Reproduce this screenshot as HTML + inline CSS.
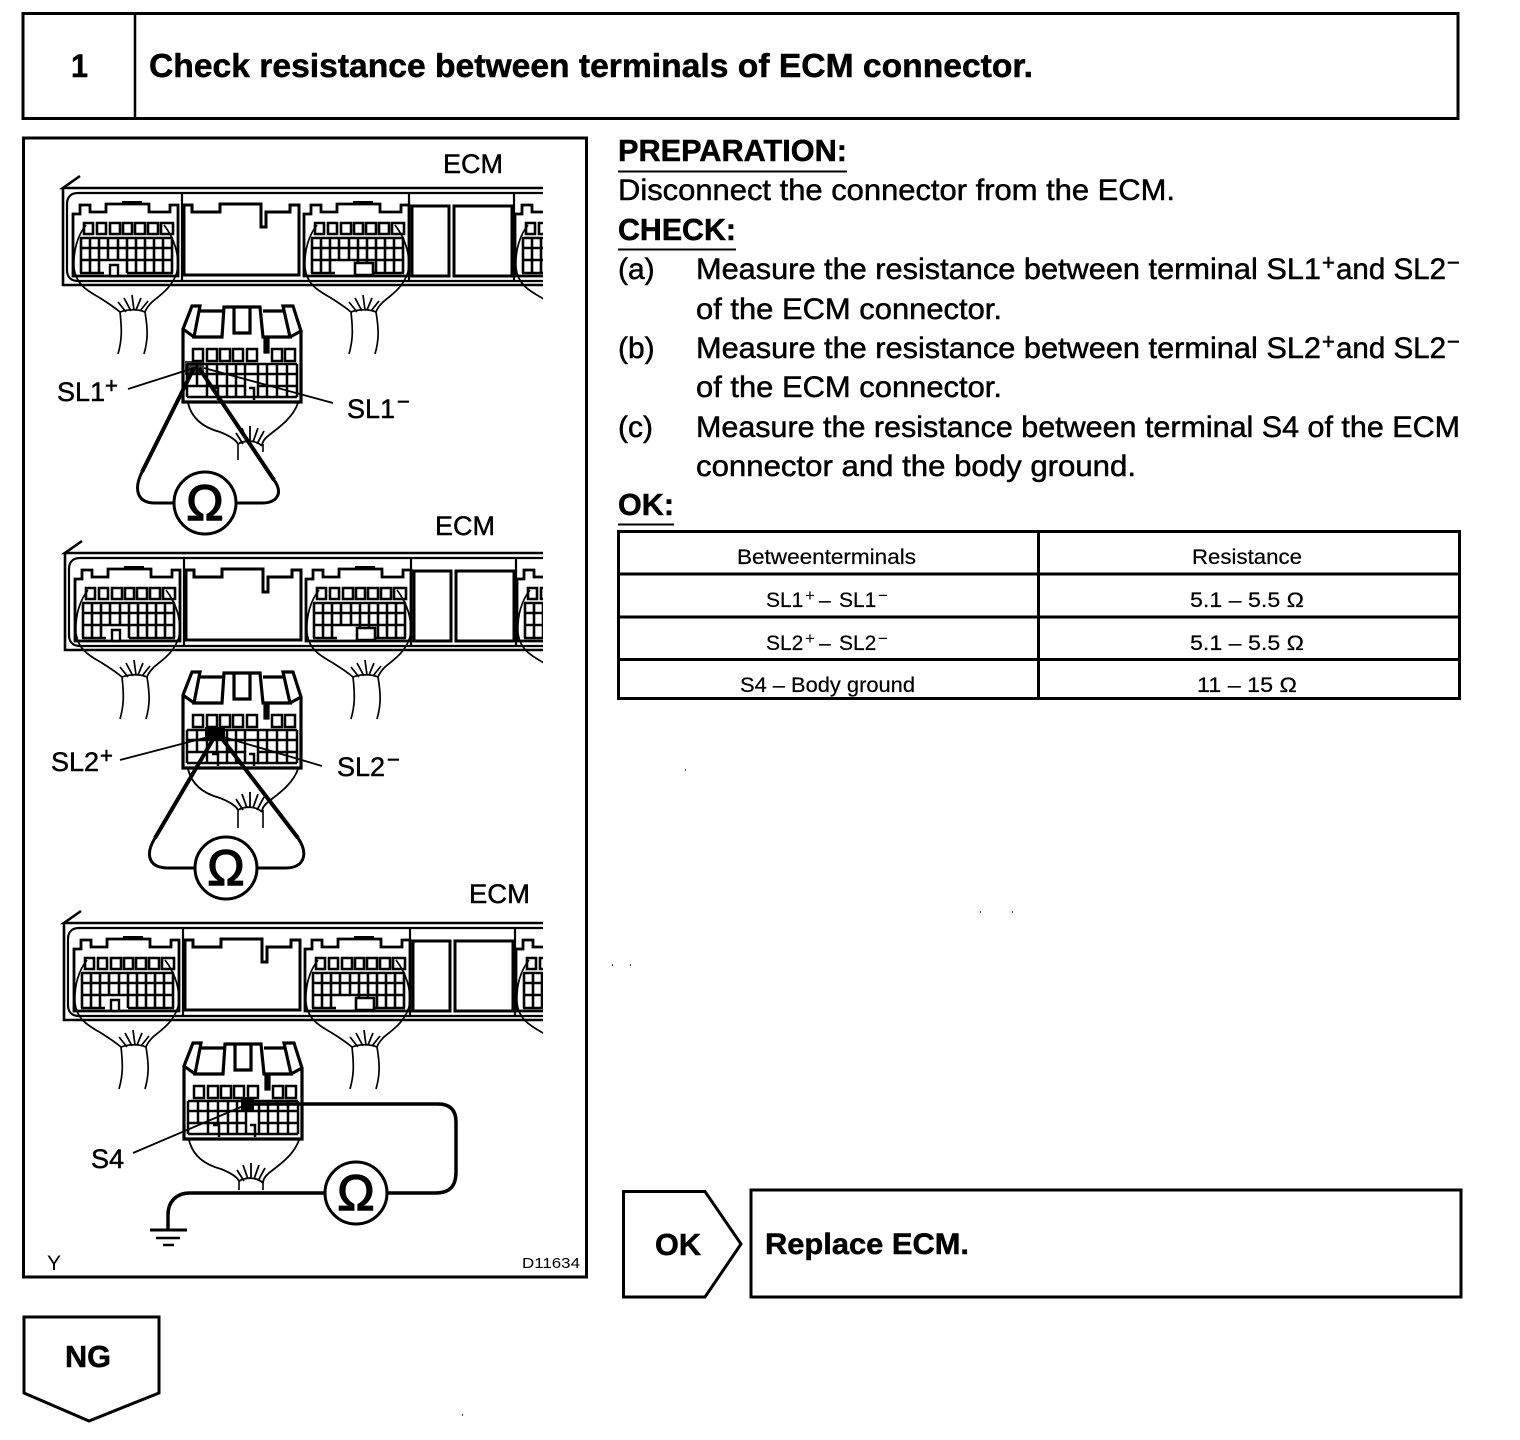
<!DOCTYPE html>
<html><head><meta charset="utf-8"><style>
html,body{margin:0;padding:0;background:#fff}
svg{display:block}
text{font-family:"Liberation Sans",sans-serif;fill:#000}
.b{font-weight:bold;stroke:#000;stroke-width:.5px}
.t{font-size:30px;stroke:#000;stroke-width:.5px}
.s{font-size:22px;stroke:#000;stroke-width:.6px}
.l{font-size:27px;stroke:#000;stroke-width:.45px}
.m{font-size:21px;stroke:#000;stroke-width:.2px}
.o{font-size:50px;stroke:#000;stroke-width:1.4px}
</style></head><body>
<svg width="1520" height="1440" viewBox="0 0 1520 1440" xmlns="http://www.w3.org/2000/svg">
<defs>
<clipPath id="c"><rect x="0" y="150" width="543" height="1100"/></clipPath>
<path id="grid" fill="none" stroke="#000" stroke-width="2.6" d="M84 223h9v11h-9zM97 223h9v11h-9zM110 223h10v11h-10zM123 223h9v11h-9zM135 223h10v11h-10zM148 223h10v11h-10zM161 223h12v11h-12zM80 238H173M80 248H173M80 260H173M80 273H104M127 273H173M81 238V273M90 238V273M99 238V273M108 238V260M118 238V260M127 238V273M136 238V273M145 238V273M154 238V273M163 238V273M172 238V273"/>
<g id="hous" fill="none" stroke="#000" stroke-width="2.8">
<path d="M73 276V214H80V205H90V212H106V204H149V212H170V205H178V276H73Z"/>
<path d="M122 203H142" stroke-width="4"/>
</g>
<g id="wire" fill="none" stroke="#000" stroke-width="1.7">
<path d="M86 225C78 235 73 250 74 268C76 285 88 291 100 298C108 303 114 307 120 312C122 330 122 340 118 354"/>
<path d="M164 225C174 238 180 255 177 272C172 288 160 295 152 302C148 306 146 309 145 312C148 330 148 340 144 354"/>
<path d="M120 312C128 309 138 309 145 312M118 302L126 312M124 298L131 311M132 295L134 310M141 298L136 310M148 301L140 311"/>
</g>
<g id="bar">
<path fill="none" stroke="#000" stroke-width="2.6" d="M80 176L63 188H543M63 188V285H543"/>
<path fill="none" stroke="#000" stroke-width="2.2" d="M182 193H78C71 193 67 197 67 204V270C67 277 71 281 78 281H543M182 193H543M182 193V281M409 193V281M514 193V281"/>
<use href="#hous"/><use href="#grid"/><use href="#wire"/>
<path d="M110 265h8v11h-8z" fill="#fff" stroke="#000" stroke-width="2.4"/>
<path fill="none" stroke="#000" stroke-width="3" d="M184 275V205H192V212H220V204H261V227H266V212H290V205H299V275H184ZM412 206H449V276H412ZM454 206H512V276H454Z"/>
<g transform="translate(231,0)"><use href="#hous"/><use href="#grid"/><use href="#wire"/>
<path d="M124 263h18v12h-18z" fill="#fff" stroke="#000" stroke-width="2.6"/></g>
<g transform="translate(442,0)"><use href="#hous"/><use href="#grid"/><use href="#wire"/></g>
</g>
<g id="male" fill="none" stroke="#000">
<path stroke-width="3.2" d="M183 329L192 306H200L194 337H222L224 307H260L263 337H290L283 306H293L301 331V402H183ZM183 329L194 337M290 337L301 331M234 308V333H250V308M200 311H223M263 311H284M265 337V352H268V337"/>
<path stroke-width="2.5" d="M193 349h10v12h-10zM207 349h10v12h-10zM220 349h10v12h-10zM233 349h10v12h-10zM247 349h10v12h-10zM272 349h10v12h-10zM285 349h10v12h-10zM187 364H297M187 374H297M187 386H245M258 386H297M187 397H297M187 364V397M197 364V386M207 364V397M217 364V386M227 364V397M236 364V397M245 364V397M258 364V397M267 364V397M277 364V397M287 364V397M297 364V397M212 388H218V400M249 388H254V400"/>
</g>
<path id="mwire" fill="none" stroke="#000" stroke-width="1.8" d="M188 403C192 420 205 428 220 432C230 436 236 440 238 444M298 403C292 420 275 430 268 436C263 440 262 444 262 446M238 444C245 440 256 440 262 446M236 433L243 444M242 428L247 442M250 426L250 442M258 428L253 442M264 431L257 444"/>
<g id="ohm">
<circle cx="0" cy="0" r="31" fill="#fff" stroke="#000" stroke-width="3"/>
</g>
</defs>
<rect width="1520" height="1440" fill="#fff"/>

<rect x="23" y="13.5" width="1435" height="105" fill="none" stroke="#000" stroke-width="3"/>
<path d="M135 13V119" stroke="#000" stroke-width="2.5"/>
<text class="b" x="71" y="77" font-size="32" textLength="17" lengthAdjust="spacingAndGlyphs">1</text>
<text class="b" x="149" y="77" font-size="33" textLength="884" lengthAdjust="spacingAndGlyphs">Check resistance between terminals of ECM connector.</text>

<rect x="23.500" y="138" width="563" height="1139" fill="none" stroke="#000" stroke-width="3"/>

<g clip-path="url(#c)">
<use href="#bar"/>
<use href="#bar" transform="translate(2,365)"/>
<use href="#bar" transform="translate(1,735)"/>
</g>
<use href="#male"/><use href="#mwire"/>
<use href="#male" transform="translate(0,366)"/><use href="#mwire" transform="translate(0,366)"/>
<use href="#male" transform="translate(1,737)"/><use href="#mwire" transform="translate(1,737)"/>

<path d="M238 444V460M263 444V452" stroke="#000" stroke-width="1.6" fill="none"/>
<path d="M238 810V828M263 810V828" stroke="#000" stroke-width="1.6" fill="none"/>
<path d="M239 1181V1190M263 1181V1190" stroke="#000" stroke-width="1.6" fill="none"/>

<g fill="none" stroke="#000">
<path stroke-width="4" d="M194 368L142 472"/>
<path stroke-width="4" d="M199 368L274 480"/>
<path stroke-width="3" d="M142 472C134 488 136 503 155 503H174M274 480C284 494 276 503 262 503H236"/>
<path stroke-width="1.8" d="M128 389L197 367M333 403L204 368"/>
<path stroke-width="4" d="M215 736L155 838"/>
<path stroke-width="4" d="M220 736L298 838"/>
<path stroke-width="3" d="M155 838C144 856 150 868 168 868H195M298 838C310 856 302 868 286 868H258"/>
<path stroke-width="1.8" d="M120 760L212 736M322 766L220 736"/>
<path stroke-width="3.5" d="M248 1104H438C450 1104 456 1110 456 1122V1172C456 1186 450 1193 436 1193H388M324 1193H190C176 1193 168 1202 168 1215V1230"/>
<path stroke-width="1.8" d="M133 1153L248 1104"/>
<path stroke-width="3" d="M150 1230H187"/>
<path stroke-width="2.5" d="M156 1238H180M163 1245H174"/>
</g>
<rect x="185" y="361" width="19" height="14" fill="#000" opacity=".75"/>
<rect x="205" y="727" width="20" height="12" fill="#000"/>
<rect x="241" y="1097" width="13" height="13" fill="#000"/>

<use href="#ohm" x="205" y="503"/>
<use href="#ohm" x="226" y="868"/>
<use href="#ohm" x="356" y="1193"/>
<text class="o" x="205" y="520" text-anchor="middle">Ω</text>
<text class="o" x="226" y="885" text-anchor="middle">Ω</text>
<text class="o" x="356" y="1210" text-anchor="middle">Ω</text>

<text class="l" x="443" y="173" textLength="60" lengthAdjust="spacingAndGlyphs">ECM</text>
<text class="l" x="435" y="535" textLength="60" lengthAdjust="spacingAndGlyphs">ECM</text>
<text class="l" x="469" y="903" textLength="61" lengthAdjust="spacingAndGlyphs">ECM</text>
<text class="l" x="57" y="401">SL1</text><text class="s" x="105" y="393">+</text>
<text class="l" x="347" y="418">SL1</text><text class="s" x="397" y="409">−</text>
<text class="l" x="51" y="771">SL2</text><text class="s" x="100" y="763">+</text>
<text class="l" x="337" y="776">SL2</text><text class="s" x="387" y="767">−</text>
<text class="l" x="91" y="1168">S4</text>
<text x="47" y="1270" font-size="21">Y</text>
<text x="522" y="1268" font-size="15" textLength="58" lengthAdjust="spacingAndGlyphs">D11634</text>

<text class="b" x="618" y="161" font-size="31" textLength="229" lengthAdjust="spacingAndGlyphs">PREPARATION:</text>
<path d="M618 171.500H847M618 249.500H736M618 524.500H674" stroke="#000" stroke-width="2"/>
<text class="t" x="618" y="200" textLength="557" lengthAdjust="spacingAndGlyphs">Disconnect the connector from the ECM.</text>
<text class="b" x="618" y="240" font-size="31" textLength="118" lengthAdjust="spacingAndGlyphs">CHECK:</text>
<text class="t" x="618" y="279">(a)</text>
<text class="t" x="696" y="279" textLength="625" lengthAdjust="spacingAndGlyphs">Measure the resistance between terminal SL1</text>
<text class="s" x="1322" y="270">+</text>
<text class="t" x="1336" y="279" textLength="110" lengthAdjust="spacingAndGlyphs">and SL2</text>
<text class="s" x="1447" y="270">−</text>
<text class="t" x="696" y="319" textLength="306" lengthAdjust="spacingAndGlyphs">of the ECM connector.</text>
<text class="t" x="618" y="358">(b)</text>
<text class="t" x="696" y="358" textLength="625" lengthAdjust="spacingAndGlyphs">Measure the resistance between terminal SL2</text>
<text class="s" x="1322" y="349">+</text>
<text class="t" x="1336" y="358" textLength="110" lengthAdjust="spacingAndGlyphs">and SL2</text>
<text class="s" x="1447" y="349">−</text>
<text class="t" x="696" y="397" textLength="306" lengthAdjust="spacingAndGlyphs">of the ECM connector.</text>
<text class="t" x="618" y="437">(c)</text>
<text class="t" x="696" y="437" textLength="764" lengthAdjust="spacingAndGlyphs">Measure the resistance between terminal S4 of the ECM</text>
<text class="t" x="696" y="476" textLength="440" lengthAdjust="spacingAndGlyphs">connector and the body ground.</text>
<text class="b" x="618" y="515" font-size="31" textLength="56" lengthAdjust="spacingAndGlyphs">OK:</text>

<g fill="none" stroke="#000" stroke-width="3">
<rect x="618.500" y="531.500" width="841" height="167"/>
<path d="M618 574H1460M618 617H1460M618 659.500H1460M1038.500 531V699"/>
</g>
<text class="m" x="737" y="564" textLength="179" lengthAdjust="spacingAndGlyphs">Betweenterminals</text>
<text class="m" x="1192" y="564" textLength="110" lengthAdjust="spacingAndGlyphs">Resistance</text>
<text class="m" x="766" y="607">SL1</text><text x="805" y="601" font-size="17">+</text><text class="m" x="819" y="607">–</text><text class="m" x="839" y="607">SL1</text><text x="878" y="601" font-size="17">−</text>
<text class="m" x="766" y="650">SL2</text><text x="805" y="644" font-size="17">+</text><text class="m" x="819" y="650">–</text><text class="m" x="839" y="650">SL2</text><text x="878" y="644" font-size="17">−</text>
<text class="m" x="740" y="692" textLength="175" lengthAdjust="spacingAndGlyphs">S4 – Body ground</text>
<text class="m" x="1190" y="607" textLength="114" lengthAdjust="spacingAndGlyphs">5.1 – 5.5 Ω</text>
<text class="m" x="1190" y="650" textLength="114" lengthAdjust="spacingAndGlyphs">5.1 – 5.5 Ω</text>
<text class="m" x="1197" y="692" textLength="100" lengthAdjust="spacingAndGlyphs">11 – 15 Ω</text>

<path d="M623.500 1191.500H705L741 1244L705 1297H623.500Z" fill="none" stroke="#000" stroke-width="3"/>
<text class="b" x="655" y="1255" font-size="31" textLength="46" lengthAdjust="spacingAndGlyphs">OK</text>
<rect x="751" y="1190" width="710" height="107" fill="none" stroke="#000" stroke-width="3"/>
<text class="b" x="765" y="1254" font-size="30" textLength="204" lengthAdjust="spacingAndGlyphs">Replace ECM.</text>

<path d="M24 1317H159V1393L89 1421L24 1393Z" fill="none" stroke="#000" stroke-width="3"/>
<text class="b" x="65" y="1367" font-size="31" textLength="46" lengthAdjust="spacingAndGlyphs">NG</text>

<path d="M685 770h1M612 965h1M630 965h1M980 912h1M1012 912h1M462 1415h1" stroke="#000" stroke-width="1.500"/>
</svg>
</body></html>
